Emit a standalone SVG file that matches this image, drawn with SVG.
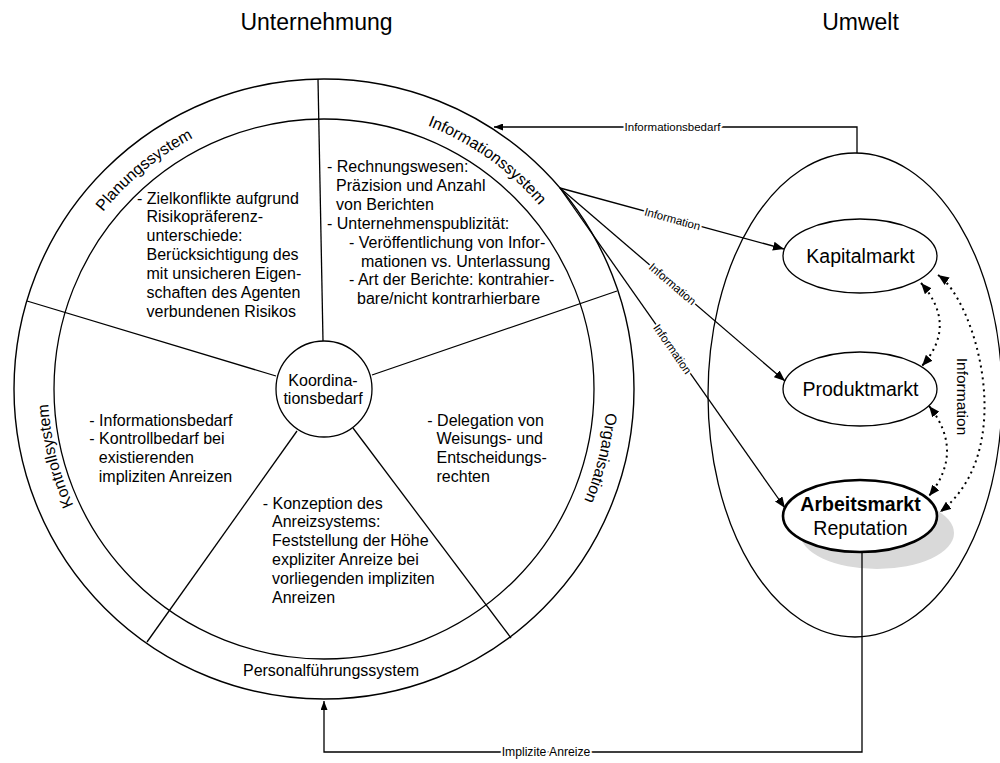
<svg xmlns="http://www.w3.org/2000/svg" width="1000" height="763" viewBox="0 0 1000 763">
<style>
text{font-family:"Liberation Sans",Arial,sans-serif;fill:#000}
.b{font-size:16px}
.r{font-size:16px}
.t{font-size:23px}
.m{font-size:19.5px}
.lbl{font-size:11.5px;paint-order:stroke;stroke:#fff;stroke-width:4px;stroke-linejoin:round}
.ln{fill:none;stroke:#000;stroke-width:1.3}
.dot{fill:none;stroke:#000;stroke-width:2;stroke-dasharray:2 4}
</style>
<defs>
<marker id="ah" markerUnits="userSpaceOnUse" markerWidth="11" markerHeight="9" refX="11" refY="4.5" orient="auto-start-reverse"><path d="M0,0 L11,4.5 L0,9 z" fill="#000"/></marker>
<marker id="ahs" markerUnits="userSpaceOnUse" markerWidth="9" markerHeight="7" refX="9" refY="3.5" orient="auto-start-reverse"><path d="M0,0 L9,3.5 L0,7 z" fill="#000"/></marker>
<path id="pPlan" d="M45.83,336.93 A283,283 0 0 1 326.96,106.01"/>
<path id="pInfo" d="M301.8,106.87 A283,283 0 0 1 597.99,318.14"/>
<path id="pOrg" d="M578.36,264.94 A283,283 0 0 1 490.34,617.95"/>
<path id="pKon" d="M161.8,612.3 A276,276 0 0 1 75.9,268"/>
</defs>

<text class="t" x="316.5" y="30" text-anchor="middle">Unternehmung</text>
<text class="t" x="860.5" y="30" text-anchor="middle">Umwelt</text>

<g id="unternehmung">
<circle cx="324" cy="389" r="310" fill="none" stroke="#000" stroke-width="1.4"/>
<circle cx="324" cy="389" r="270" fill="none" stroke="#000" stroke-width="1.3"/>
<g class="spokes">
<line class="ln" x1="323" y1="341" x2="318" y2="79"/>
<line class="ln" x1="276" y1="376" x2="27" y2="301"/>
<line class="ln" x1="372" y1="375" x2="617" y2="291"/>
<line class="ln" x1="297" y1="431" x2="147" y2="642"/>
<line class="ln" x1="353" y1="428" x2="511" y2="638"/>
</g>
</g>

<g id="planungssystem">
<text class="r"><textPath href="#pPlan" startOffset="50%" text-anchor="middle">Planungssystem</textPath></text>
<text class="b" x="137" y="203.5">- Zielkonflikte aufgrund<tspan x="146.5" dy="18.9">Risikopräferenz-</tspan><tspan x="146.5" dy="18.9">unterschiede:</tspan><tspan x="146.5" dy="18.9">Berücksichtigung des</tspan><tspan x="146.5" dy="18.9">mit unsicheren Eigen-</tspan><tspan x="146.5" dy="18.9">schaften des Agenten</tspan><tspan x="146.5" dy="18.9">verbundenen Risikos</tspan></text>
</g>

<g id="informationssystem">
<text class="r"><textPath href="#pInfo" startOffset="50%" text-anchor="middle">Informationssystem</textPath></text>
<text class="b" x="327" y="172">- Rechnungswesen:<tspan x="336" dy="18.9">Präzision und Anzahl</tspan><tspan x="336" dy="18.9">von Berichten</tspan><tspan x="327" dy="18.9">- Unternehmenspublizität:</tspan><tspan x="349" dy="18.9">- Veröffentlichung von Infor-</tspan><tspan x="361" dy="18.9">mationen vs. Unterlassung</tspan><tspan x="349" dy="18.9">- Art der Berichte: kontrahier-</tspan><tspan x="357" dy="18.9">bare/nicht kontrarhierbare</tspan></text>
</g>

<g id="organisation">
<text class="r"><textPath href="#pOrg" startOffset="50%" text-anchor="middle">Organisation</textPath></text>
<text class="b" x="427.3" y="425.5">- Delegation von<tspan x="436.5" dy="18.9">Weisungs- und</tspan><tspan x="436.5" dy="18.9">Entscheidungs-</tspan><tspan x="436.5" dy="18.9">rechten</tspan></text>
</g>

<g id="kontrollsystem">
<text class="r"><textPath href="#pKon" startOffset="50%" text-anchor="middle">Kontrollsystem</textPath></text>
<text class="b" x="89.3" y="425.5">- Informationsbedarf<tspan x="89.3" dy="18.9">- Kontrollbedarf bei</tspan><tspan x="98.8" dy="18.9">existierenden</tspan><tspan x="98.8" dy="18.9">impliziten Anreizen</tspan></text>
</g>

<g id="personalfuehrungssystem">
<text class="r" x="331" y="676" text-anchor="middle">Personalführungssystem</text>
<text class="b" x="262.7" y="508.5">- Konzeption des<tspan x="272" dy="18.9">Anreizsystems:</tspan><tspan x="272" dy="18.9">Feststellung der Höhe</tspan><tspan x="272" dy="18.9">expliziter Anreize bei</tspan><tspan x="272" dy="18.9">vorliegenden impliziten</tspan><tspan x="272" dy="18.9">Anreizen</tspan></text>
</g>

<g id="koordinationsbedarf">
<circle cx="324" cy="389" r="48" fill="#fff" stroke="#000" stroke-width="1.3"/>
<text class="b" x="323" y="385.5" text-anchor="middle">Koordina-<tspan x="323" dy="18">tionsbedarf</tspan></text>
</g>

<g id="umwelt">
<ellipse cx="855" cy="395" rx="147" ry="242" fill="none" stroke="#000" stroke-width="1.3"/>
</g>

<g id="kapitalmarkt">
<ellipse cx="860" cy="256" rx="77" ry="37" fill="#fff" stroke="#000" stroke-width="1.3"/>
<text class="m" x="860.5" y="263" text-anchor="middle">Kapitalmarkt</text>
</g>

<g id="produktmarkt">
<ellipse cx="860" cy="389" rx="77" ry="37" fill="#fff" stroke="#000" stroke-width="1.3"/>
<text class="m" x="860.5" y="396" text-anchor="middle">Produktmarkt</text>
</g>

<g id="arbeitsmarkt">
<ellipse cx="877" cy="533" rx="77" ry="36" fill="#d9d9d9"/>
<ellipse cx="860" cy="516" rx="77" ry="36" fill="#fff" stroke="#000" stroke-width="2.6"/>
<text class="m" x="860.5" y="511" text-anchor="middle" font-weight="bold">Arbeitsmarkt</text>
<text class="m" x="860.5" y="535" text-anchor="middle">Reputation</text>
</g>

<g id="connectors">
<polyline class="ln" points="857,153 857,127 494,127" marker-end="url(#ahs)"/>
<text class="lbl" x="672.5" y="131" text-anchor="middle">Informationsbedarf</text>

<line class="ln" x1="560" y1="188" x2="784" y2="249" marker-end="url(#ah)"/>
<text class="lbl" transform="translate(672.5,219) rotate(15.4)" x="0" y="4" text-anchor="middle">Information</text>
<line class="ln" x1="560" y1="188" x2="785" y2="381" marker-end="url(#ah)"/>
<text class="lbl" transform="translate(672.5,284) rotate(40.5)" x="0" y="4" text-anchor="middle">Information</text>
<line class="ln" x1="560" y1="188" x2="785" y2="508" marker-end="url(#ah)"/>
<text class="lbl" transform="translate(672.5,349) rotate(55.1)" x="0" y="4" text-anchor="middle">Information</text>

<path class="dot" d="M921,283 Q958,325 922,366" marker-start="url(#ah)" marker-end="url(#ah)"/>
<path class="dot" d="M929,406 Q965,451 929,496" marker-start="url(#ah)" marker-end="url(#ah)"/>
<path class="dot" d="M938,275 C975,300 1020,450 940,512" marker-start="url(#ah)" marker-end="url(#ah)"/>
<text transform="translate(956.5,396.5) rotate(90)" x="0" y="0" text-anchor="middle" font-size="15.5">Information</text>

<polyline class="ln" points="862,552 862,752 324,752 324,701" marker-end="url(#ahs)"/>
<text class="lbl" x="546" y="756" text-anchor="middle" style="font-size:12.2px">Implizite Anreize</text>
</g>
</svg>
